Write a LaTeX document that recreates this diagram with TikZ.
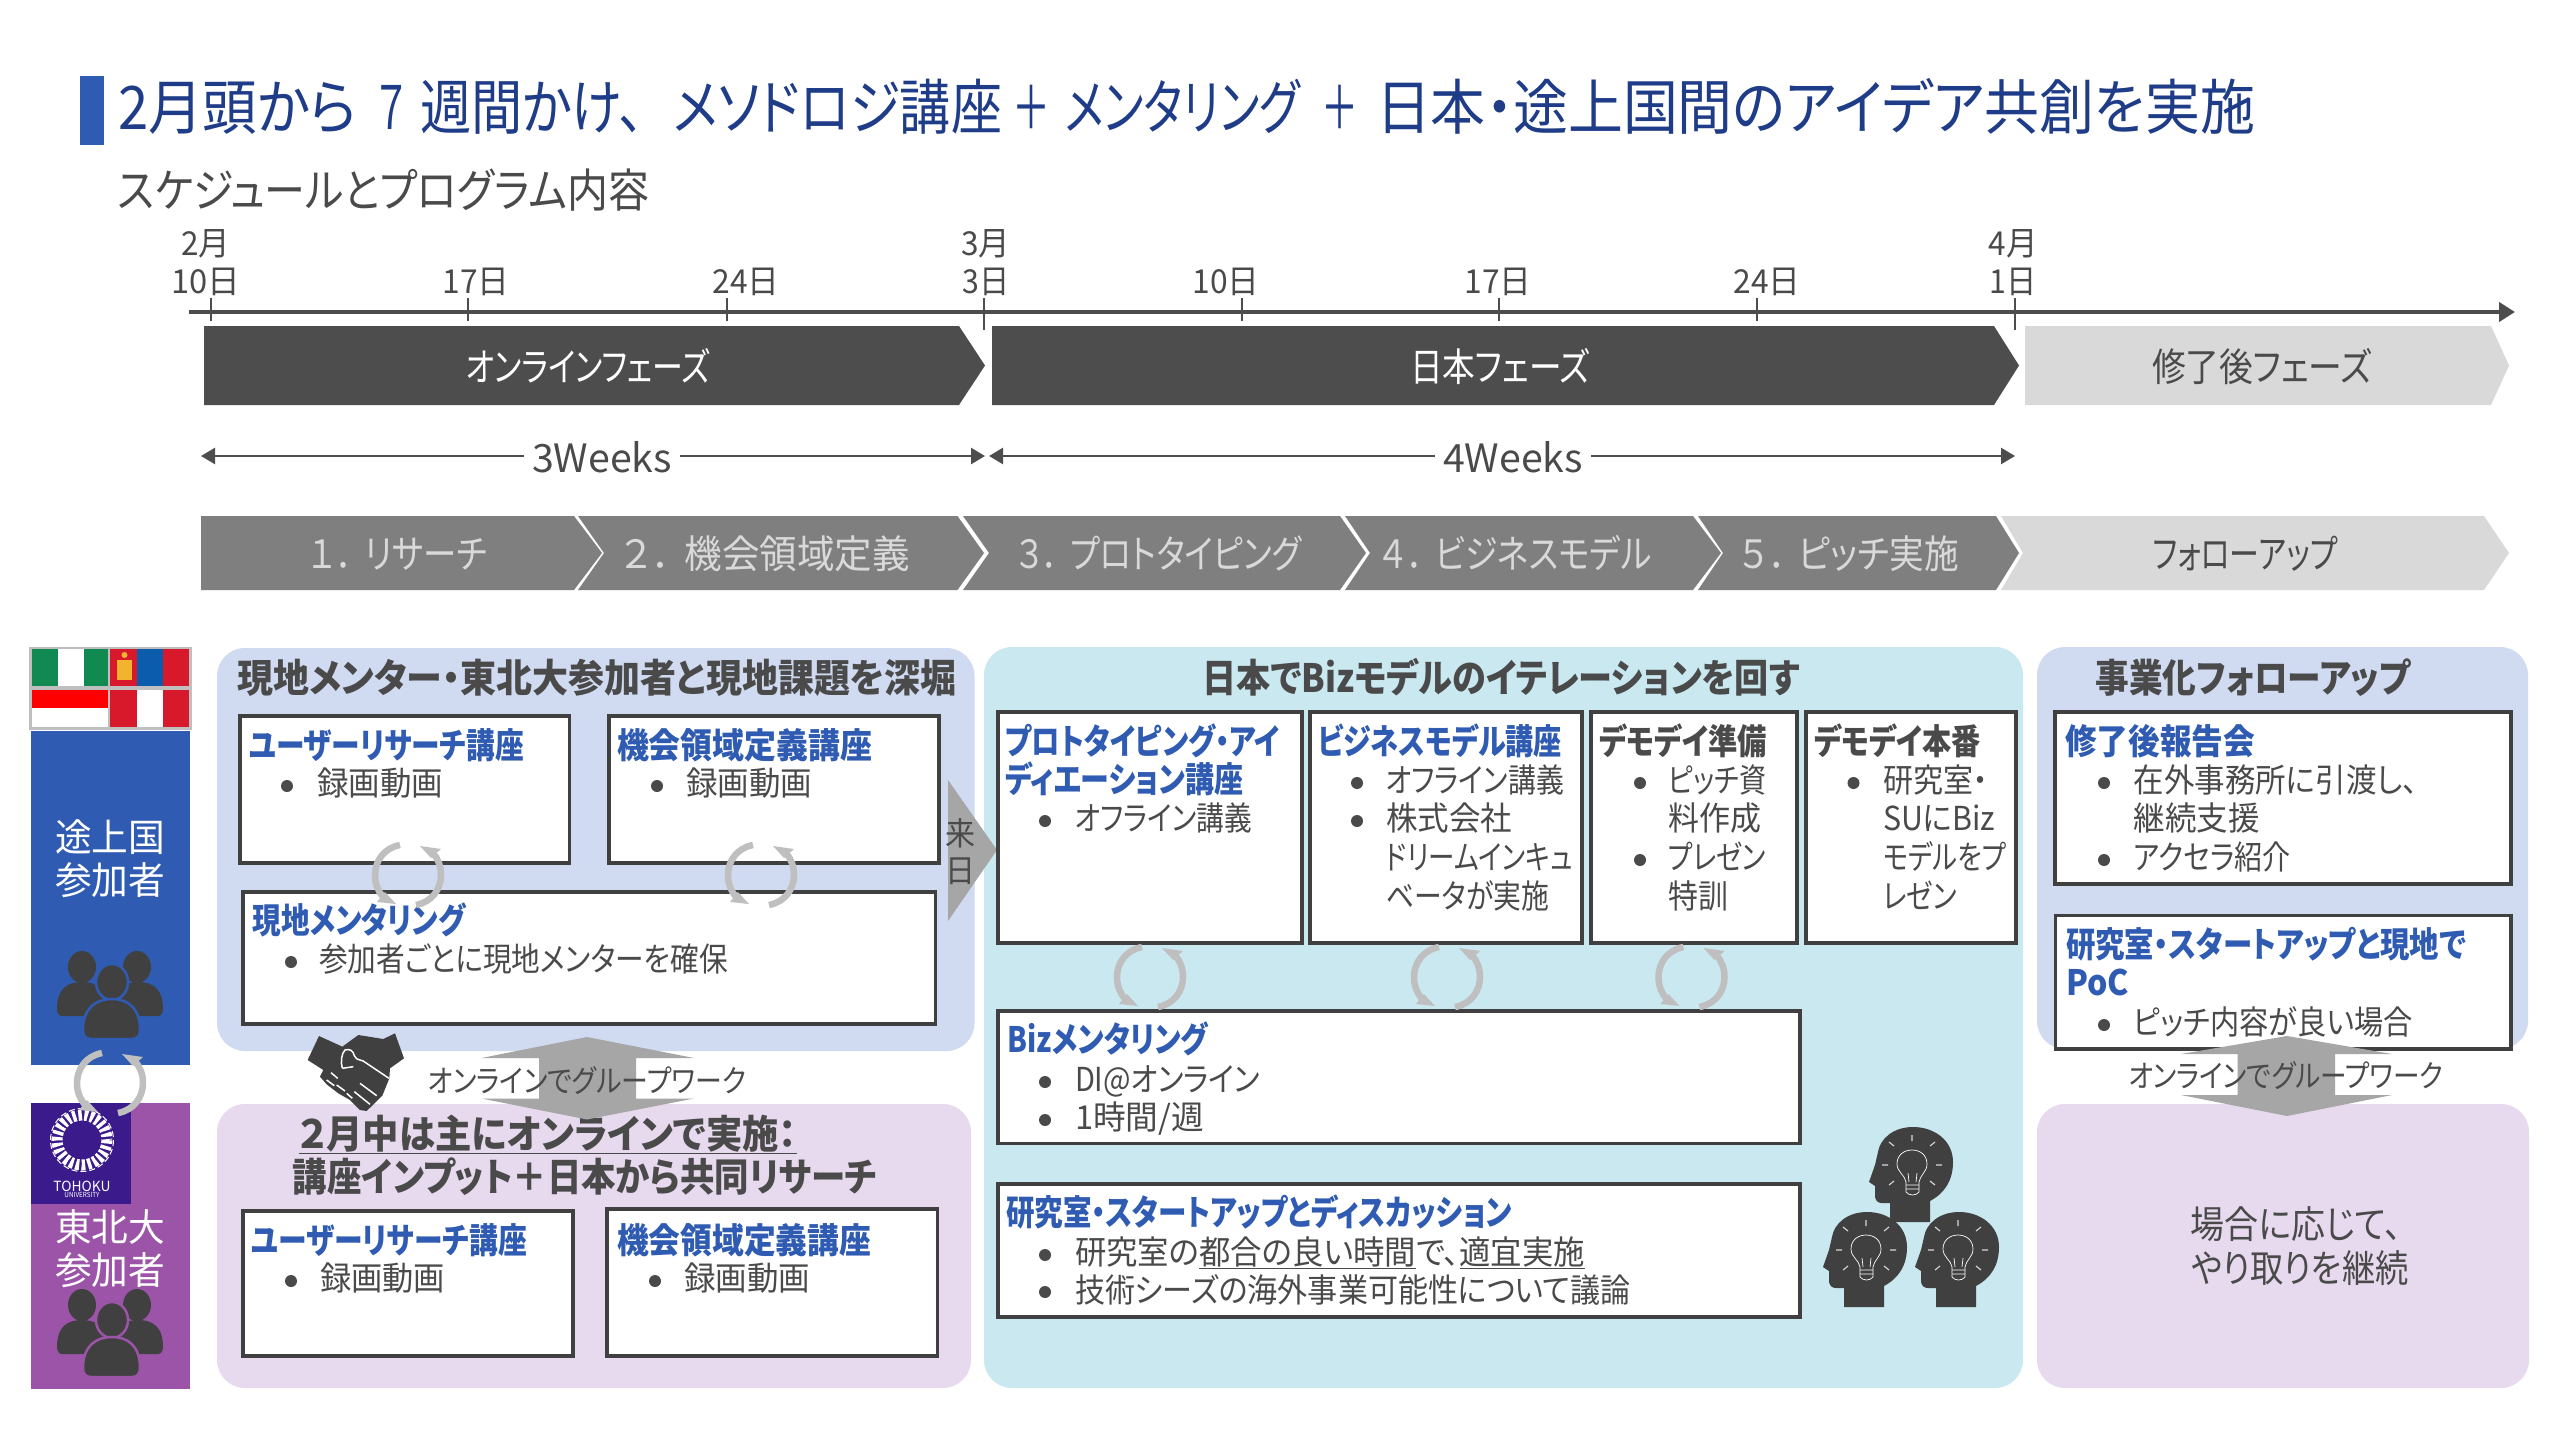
\documentclass[tikz,border=0pt]{standalone}
\usepackage{graphicx}
\usepackage{fontspec}
\setmainfont{Noto Sans CJK JP}[RawFeature=+palt]
\usetikzlibrary{arrows.meta}
\definecolor{cBody}{HTML}{4A4A4A}
\definecolor{cDark}{HTML}{4D4D4D}
\definecolor{cIcon}{HTML}{404040}
\definecolor{cBlue}{HTML}{2F5CB2}
\definecolor{cNavy}{HTML}{1F3C88}
\definecolor{cPurple}{HTML}{9B54A8}
\definecolor{cPB}{HTML}{D0DAF0}
\definecolor{cPP}{HTML}{E8DAEE}
\definecolor{cPT}{HTML}{C9E8F0}
\definecolor{cMid}{HTML}{7F7F7F}
\definecolor{cLight}{HTML}{D9D9D9}
\definecolor{cArrow}{HTML}{A6A6A6}
\definecolor{cCyc}{HTML}{BFBFBF}
\definecolor{cLogo}{HTML}{3B1A8C}
\definecolor{cFlagG}{HTML}{108A51}
\definecolor{cFlagR}{HTML}{D8192C}
\definecolor{cFlagB}{HTML}{0B5CAD}
\definecolor{cFlagY}{HTML}{F2B32E}
\tikzset{
  txt/.style={font=\fontsize{#1pt}{#1pt}\selectfont,text height={0.88*#1pt},text depth={0.12*#1pt},inner sep=0pt,outer sep=0pt,anchor=west,text=cBody},
  boxst/.style={draw=cIcon,line width=3.5pt,fill=white,inner sep=0pt,outer sep=0pt,anchor=north west},
  panel/.style={fill=#1,rounded corners=28pt},
  cyline/.style={draw=cCyc,line width=6.5pt},
  axisline/.style={draw=cDark,line width=4pt,-{Triangle[length=16pt,width=19pt]}},
  weekline/.style={draw=cDark,line width=2.5pt,-{Triangle[length=14pt,width=16pt]}},
  tickline/.style={draw=cDark,line width=2pt},
  bigarrow/.style={fill=cArrow},
}
\newcommand{\dzT}[6][]{\node[txt=#4,#1] (#2) at (#3) {\resizebox{#5pt}{\height}{#6}};}
\newcommand{\dzS}[2]{\resizebox{#1pt}{\height}{#2}}
\newcommand{\dzB}[5]{\pgfmathsetmacro{\dzw}{#4-#2}\pgfmathsetmacro{\dzh}{#5-#3}\node[boxst,minimum width=\dzw pt,minimum height=\dzh pt] (#1) at (#2,#3) {};}
\newcommand{\dzBul}[2]{\fill[cBody] (#1,#2) circle (6);}
\newcommand{\dzCyc}[2]{\begin{scope}[shift={(#1,#2)}]
  \draw[cyline] (-8,-30) .. controls (-24,-27) and (-33,-14) .. (-33,0) .. controls (-33,9) and (-30,16) .. (-25,22);
  \fill[cCyc] (-12,29) -- (-23,17) -- (-31,27) -- cycle;
  \draw[cyline] (8,30) .. controls (24,27) and (33,14) .. (33,0) .. controls (33,-9) and (30,-16) .. (25,-22);
  \fill[cCyc] (12,-29) -- (23,-17) -- (33,-26) -- cycle;
\end{scope}}
\newcommand{\dzPeople}[3]{\begin{scope}[shift={(#1,#2)}]
  \fill[cIcon] (-28,-27) ellipse (14 and 16);
  \fill[cIcon] (27,-27) ellipse (14 and 16);
  \fill[cIcon] (-53,15) .. controls (-53,-6) and (-42,-12) .. (-28,-12) .. controls (-14,-12) and (-3,-6) .. (-3,15) -- (-3,22) -- (-48,22) .. controls (-51,22) and (-53,19) .. (-53,15) -- cycle;
  \fill[cIcon] (53,15) .. controls (53,-6) and (42,-12) .. (28,-12) .. controls (14,-12) and (3,-6) .. (3,15) -- (3,22) -- (48,22) .. controls (51,22) and (53,19) .. (53,15) -- cycle;
  \filldraw[fill=cIcon,draw=#3,line width=2.5pt] (2,-12) ellipse (16 and 18);
  \filldraw[fill=cIcon,draw=#3,line width=2.5pt] (-27,36) .. controls (-27,14) and (-14,5) .. (2,5) .. controls (18,5) and (30,14) .. (30,36) .. controls (30,42) and (27,45) .. (22,45) -- (-19,45) .. controls (-24,45) and (-27,42) .. (-27,36) -- cycle;
\end{scope}}
\newcommand{\dzHead}[2]{\begin{scope}[shift={(#1,#2)}]
  \fill[cIcon] (17,57) -- (17,36) .. controls (32,28) and (40,15) .. (40,-3) .. controls (40,-24) and (22,-38) .. (0,-38) .. controls (-20,-38) and (-33,-26) .. (-35,-13) -- (-38,0) -- (-44,17) -- (-38,21) -- (-38,32) .. controls (-37,36) and (-35,38) .. (-31,38) -- (-23,38) -- (-23,57) -- cycle;
  \draw[white,line width=.7pt] (-7,17) .. controls (-8,10) and (-16,7) .. (-16,-1) .. controls (-16,-10) and (-9,-15) .. (-1,-15) .. controls (7,-15) and (14,-10) .. (14,-1) .. controls (14,7) and (7,10) .. (6,17) -- (6,27) .. controls (3,31) and (-4,31) .. (-7,27) -- cycle;
  \draw[white,line width=.7pt] (-7,20) -- (6,20) (-7,24) -- (6,24) (-4,17) -- (-5,8) (3,17) -- (4,8);
  \draw[white!85!black,line width=1.1pt] (-1,-24) -- (-1,-30) (-19,-19) -- (-24,-23) (17,-19) -- (22,-23) (-25,0) -- (-31,0) (23,0) -- (29,0) (-19,16) -- (-24,20) (17,16) -- (22,20);
\end{scope}}
\begin{document}
\begin{tikzpicture}[x=1pt,y=-1pt]
\useasboundingbox (0,0) rectangle (2560,1440);
\fill[white] (0,0) rectangle (2560,1440);

% Title
\fill[cBlue] (80,76) rectangle (104,145);
\dzT[text=cNavy]{title}{118,107}{60}{2137}{\dzS{239}{2月頭から}\hspace{20pt}\dzS{29}{７}\hspace{14pt}\dzS{225}{週間かけ、}\hspace{28pt}\dzS{329}{メソドロジ講座}\hspace{10pt}\dzS{38}{＋}\hspace{15pt}\dzS{235}{メンタリング}\hspace{21pt}\dzS{37}{＋}\hspace{18pt}\dzS{879}{日本・途上国間のアイデア共創を実施}}
\dzT{subtitle}{118,190}{46}{531}{スケジュールとプログラム内容}

% Date labels
\dzT[anchor=center]{m2}{206,243}{33}{49}{2月}
\dzT[anchor=center]{d1}{206,281}{33}{69}{10日}
\dzT[anchor=center]{d2}{476,281}{33}{67}{17日}
\dzT[anchor=center]{d3}{746,281}{33}{67}{24日}
\dzT[anchor=center]{m3}{986,243}{33}{49}{3月}
\dzT[anchor=center]{d4}{986,281}{33}{47}{3日}
\dzT[anchor=center]{d5}{1226,281}{33}{67}{10日}
\dzT[anchor=center]{d6}{1498,281}{33}{67}{17日}
\dzT[anchor=center]{d7}{1767,281}{33}{67}{24日}
\dzT[anchor=center]{m4}{2013,243}{33}{49}{4月}
\dzT[anchor=center]{d8}{2013,281}{33}{47}{1日}

% Axis
\coordinate (axL) at (189,312); \coordinate (axR) at (2515,312);
\draw[axisline] (axL) -- (axR);
\draw[tickline] (211,298) -- (211,321) (468,298) -- (468,321) (726.5,298) -- (726.5,321) (984,298) -- (984,330) (1242,298) -- (1242,321) (1499,298) -- (1499,321) (1757,298) -- (1757,321) (2015,298) -- (2015,330);

% Phase bands
\fill[cDark] (204,326) -- (959,326) -- (985,365.5) -- (959,405) -- (204,405) -- cycle;
\fill[cDark] (992,326) -- (1994,326) -- (2019,365.5) -- (1994,405) -- (992,405) -- cycle;
\fill[cLight] (2025,326) -- (2491,326) -- (2509,365.5) -- (2491,405) -- (2025,405) -- cycle;
\dzT[anchor=center,text=white]{ph1}{588,367}{39}{245}{オンラインフェーズ}
\dzT[anchor=center,text=white]{ph2}{1500,367}{39}{180}{日本フェーズ}
\dzT[anchor=center,text=cBody]{ph3}{2262,367}{39}{220}{修了後フェーズ}

% Week arrows
\coordinate (w3L) at (201,456); \coordinate (w3R) at (985,456);
\coordinate (w4L) at (989,456); \coordinate (w4R) at (2015,456);
\dzT[anchor=center,inner xsep=8pt]{w3}{602,458}{39}{140}{3Weeks}
\dzT[anchor=center,inner xsep=8pt]{w4}{1513,458}{39}{140}{4Weeks}
\draw[weekline] (w3.west |- w3L) -- (w3L);
\draw[weekline] (w3.east |- w3R) -- (w3R);
\draw[weekline] (w4.west |- w4L) -- (w4L);
\draw[weekline] (w4.east |- w4R) -- (w4R);

% Chevrons
\fill[cMid] (201,516) -- (574,516) -- (602,553) -- (574,590) -- (201,590) -- cycle;
\fill[cMid] (578,516) -- (957.5,516) -- (984,553) -- (957.5,590) -- (578,590) -- (604,553) -- cycle;
\fill[cMid] (963,516) -- (1340,516) -- (1366,553) -- (1340,590) -- (963,590) -- (989,553) -- cycle;
\fill[cMid] (1345,516) -- (1693,516) -- (1721,553) -- (1693,590) -- (1345,590) -- (1370,553) -- cycle;
\fill[cMid] (1698,516) -- (1996,516) -- (2019,553) -- (1996,590) -- (1698,590) -- (1723,553) -- cycle;
\fill[cLight] (2001,516) -- (2484,516) -- (2509,553) -- (2484,590) -- (2001,590) -- (2023,553) -- cycle;
\dzT[anchor=center,text=cLight]{c1}{398,554}{39}{178}{１\hspace{.1em}．\hspace{.3em}リサーチ}
\dzT[anchor=center,text=cLight]{c2}{766,554}{39}{288}{２\hspace{.1em}．\hspace{.3em}機会領域定義}
\dzT[anchor=center,text=cLight]{c3}{1159,554}{39}{285}{３\hspace{.1em}．\hspace{.3em}プロトタイピング}
\dzT[anchor=center,text=cLight]{c4}{1516,554}{39}{271}{４\hspace{.1em}．\hspace{.3em}ビジネスモデル}
\dzT[anchor=center,text=cLight]{c5}{1850,554}{39}{218}{５\hspace{.1em}．\hspace{.3em}ピッチ実施}
\dzT[anchor=center,text=cBody]{c6}{2245,554}{39}{185}{フォローアップ}

% Left column
\fill[cCyc] (29,647) rectangle (192,730);
\fill[white] (32,649) rectangle (108,686);
\fill[cFlagG] (32,649) rectangle (58,686);
\fill[cFlagG] (84,649) rectangle (108,686);
\fill[cFlagR] (110,649) rectangle (189,686);
\fill[cFlagB] (137,649) rectangle (163,686);
\fill[cFlagY] (117,660) rectangle (132,680);
\fill[cFlagY] (124.5,655) circle (3);
\fill[white] (32,690) rectangle (108,727);
\fill[red] (32,690) rectangle (108,708);
\fill[cFlagR] (110,690) rectangle (189,727);
\fill[white] (137,690) rectangle (163,727);
\fill[cBlue] (31,730.5) rectangle (190,1065);
\fill[cPurple] (31,1103) rectangle (190,1389);
\fill[cLogo] (31,1103) rectangle (131,1204);
\draw[white,line width=11pt,dash pattern=on 3.5pt off 2.5pt] (82,1140) circle (25);
\draw[white,line width=1pt,dash pattern=on 6pt off 3pt] (82,1140) circle (31.5);
\dzT[anchor=center,text=white]{tohoku}{82,1186}{14}{57}{TOHOKU}
\dzT[anchor=center,text=white]{univ}{82,1195}{7}{35}{UNIVERSITY}
\dzT[anchor=center,text=white]{dev1}{110,837}{38}{110}{途上国}
\dzT[anchor=center,text=white]{dev2}{110,880}{38}{110}{参加者}
\dzT[anchor=center,text=white]{tu1}{110,1227}{38}{110}{東北大}
\dzT[anchor=center,text=white]{tu2}{110,1270}{38}{110}{参加者}
\dzPeople{110}{994}{cBlue}
\dzPeople{110}{1332}{cPurple}
\dzCyc{110}{1083}

% Panels
\fill[panel=cPB] (217,648) rectangle (974.5,1051);
\fill[panel=cPP] (217,1104) rectangle (971,1388);
\fill[panel=cPT] (984,647) rectangle (2023,1388);
\fill[panel=cPB] (2037,647) rectangle (2528,1049);
\fill[panel=cPP] (2037,1104) rectangle (2529,1388);

% Arrow to Japan
\fill[bigarrow] (948,780) -- (997,850) -- (948,921) -- cycle;
\dzT[anchor=center]{rai}{960,833}{32}{30}{来}
\dzT[anchor=center]{nichi}{960,870}{32}{30}{日}

% Panel 1
\dzT[anchor=center]{p1t}{597,677.5}{39}{719}{\bfseries 現地メンター・東北大参加者と現地課題を深堀}
\dzB{b1}{240}{716}{569.5}{863}
\dzB{b2}{609}{716}{939}{863}
\dzB{b3}{243}{892}{935.5}{1024}
\dzT[text=cBlue]{b1h}{249,745.5}{35}{275}{\bfseries ユーザーリサーチ講座}
\dzBul{287}{786}\dzT{b1a}{317,783}{33}{126}{録画動画}
\dzT[text=cBlue]{b2h}{617,745.5}{35}{255}{\bfseries 機会領域定義講座}
\dzBul{657}{786}\dzT{b2a}{686,783}{33}{126}{録画動画}
\dzT[text=cBlue]{b3h}{252.5,920}{35}{213}{\bfseries 現地メンタリング}
\dzBul{291}{962}\dzT{b3a}{319,959}{33}{409}{参加者ごとに現地メンターを確保}
\dzCyc{408}{875}
\dzCyc{761}{875}

% Panel 2 (purple)
\dzT[anchor=center]{p2a}{548,1133.6}{39}{498}{\bfseries \underline{２月中は主にオンラインで実施：}}
\dzT[anchor=center]{p2b}{585,1177}{39}{584}{\bfseries 講座インプット＋日本から共同リサーチ}
\dzB{b4}{243}{1211}{573}{1356}
\dzB{b5}{607}{1209}{937.5}{1356}
\dzT[text=cBlue]{b4h}{251,1240}{35}{276}{\bfseries ユーザーリサーチ講座}
\dzBul{291}{1281}\dzT{b4a}{320,1278}{33}{125}{録画動画}
\dzT[text=cBlue]{b5h}{617,1240}{35}{254}{\bfseries 機会領域定義講座}
\dzBul{655}{1281}\dzT{b5a}{684,1278}{33}{126}{録画動画}

% Teal panel
\dzT[anchor=center]{p3t}{1501,677.5}{39}{597}{\bfseries 日本でBizモデルのイテレーションを回す}
\dzB{t1}{998}{712}{1302}{943}
\dzB{t2}{1310}{712}{1582}{943}
\dzB{t3}{1591}{712}{1797}{943}
\dzB{t4}{1806}{712}{2016}{943}
\dzB{t5}{998}{1011}{1800}{1143.5}
\dzB{t6}{998}{1184}{1800}{1317}
\dzT[text=cBlue]{t1h}{1005,741}{35}{275}{\bfseries プロトタイピング・アイ}
\dzT[text=cBlue]{t1i}{1005,779.5}{35}{238.5}{\bfseries ディエーション講座}
\dzBul{1045}{821}\dzT{t1a}{1075,818}{33}{177}{オフライン講義}
\dzT[text=cBlue]{t2h}{1318,741}{35}{244}{\bfseries ビジネスモデル講座}
\dzBul{1357}{783}\dzT{t2a}{1386,780}{33}{178}{オフライン講義}
\dzBul{1357}{821}\dzT{t2b}{1386,818}{33}{126}{株式会社}
\dzT{t2c}{1386,857}{33}{187}{ドリームインキュ}
\dzT{t2d}{1386,896}{33}{163}{ベータが実施}
\dzT[text=cBody]{t3h}{1599,741}{35}{168}{\bfseries デモデイ準備}
\dzBul{1640}{783}\dzT{t3a}{1668,780}{33}{98}{ピッチ資}
\dzT{t3b}{1668,818}{33}{93}{料作成}
\dzBul{1640}{860}\dzT{t3c}{1668,857}{33}{98}{プレゼン}
\dzT{t3d}{1668,896}{33}{60}{特訓}
\dzT[text=cBody]{t4h}{1814,741}{35}{167}{\bfseries デモデイ本番}
\dzBul{1853.5}{783}\dzT{t4a}{1883,780}{33}{105}{研究室・}
\dzT{t4b}{1883,818}{33}{112}{SUにBiz}
\dzT{t4c}{1883,857}{33}{123}{モデルをプ}
\dzT{t4d}{1883,896}{33}{74}{レゼン}
\dzT[text=cBlue]{t5h}{1007.5,1039.5}{35}{200.6}{\bfseries Bizメンタリング}
\dzBul{1045}{1082}\dzT{t5a}{1075,1079}{33}{185}{DI@オンライン}
\dzBul{1045}{1120}\dzT{t5b}{1075,1117}{33}{129}{1時間/週}
\dzT[text=cBlue]{t6h}{1006,1212.5}{35}{506}{\bfseries 研究室・スタートアップとディスカッション}
\dzBul{1045}{1255}\dzT{t6a}{1075,1252}{33}{510}{研究室の\underline{都合の良い時間}で、\underline{適宜実施}}
\dzBul{1045}{1292}\dzT{t6b}{1075,1289.5}{33}{555.6}{技術シーズの海外事業可能性について議論}
\dzCyc{1150}{977}
\dzCyc{1447}{977}
\dzCyc{1691.5}{977}
\dzHead{1913}{1165}
\dzHead{1867}{1250}
\dzHead{1959}{1250}

% Right column
\dzT[anchor=center]{p4t}{2253,677.5}{39}{315}{\bfseries 事業化フォローアップ}
\dzB{r1}{2055}{712}{2511}{884}
\dzB{r2}{2055.5}{915.5}{2511}{1049}
\dzT[text=cBlue]{r1h}{2065,741}{35}{190}{\bfseries 修了後報告会}
\dzBul{2104}{783}\dzT{r1a}{2133.6,779.5}{33}{284}{在外事務所に引渡し、}
\dzT{r1b}{2133.6,818}{33}{126}{継続支援}
\dzBul{2104}{860}\dzT{r1c}{2133.6,857}{33}{157}{アクセラ紹介}
\dzT[text=cBlue]{r2h}{2066,944}{35}{400}{\bfseries 研究室・スタートアップと現地で}
\dzT[text=cBlue]{r2i}{2066,982}{35}{63}{\bfseries PoC}
\dzBul{2104}{1025}\dzT{r2a}{2133.6,1021.6}{33}{279}{ピッチ内容が良い場合}
\dzT[anchor=center]{r3a}{2296,1224}{38}{211}{場合に応じて、}
\dzT[anchor=center]{r3b}{2300,1268.5}{38}{217}{やり取りを継続}

% Double arrows and group-work labels
\fill[bigarrow] (587,1037) -- (694,1058) -- (636,1058) -- (636,1098.5) -- (694,1098.5) -- (587,1119.5) -- (481.5,1098.5) -- (539,1098.5) -- (539,1058) -- (481.5,1058) -- cycle;
\dzT[anchor=center]{gw1}{587,1081}{31}{318}{オンラインでグループワーク}
\fill[bigarrow] (2287,1036) -- (2392,1054) -- (2335,1054) -- (2335,1095) -- (2392,1095) -- (2287,1116) -- (2181,1095) -- (2237.5,1095) -- (2237.5,1054) -- (2181,1054) -- cycle;
\dzT[anchor=center]{gw2}{2286,1076}{31}{315}{オンラインでグループワーク}

% Handshake
\begin{scope}[shift={(295,1025)},scale=1/3]
  \fill[cIcon] (72,33) -- (142,65) -- (190,30) -- (265,42) -- (300,25) -- (327,100) -- (285,130) -- (283,160) -- (262,212) -- (215,258) -- (195,255) -- (165,225) -- (130,205) -- (95,178) -- (75,155) -- (85,135) -- (38,105) -- cycle;
  \draw[white,line width=1.5pt] (142,130) .. controls (136,110) and (140,85) .. (150,75) .. controls (165,70) and (175,78) .. (178,92) .. controls (185,110) and (200,100) .. (215,115) -- (282,160);
  \draw[white,line width=1.5pt] (142,130) -- (175,125) (195,175) -- (245,212) (178,200) -- (225,238) (108,143) -- (128,160) (95,165) -- (118,182) (125,180) -- (150,198) (155,205) -- (172,220);
\end{scope}
\end{tikzpicture}
\end{document}
